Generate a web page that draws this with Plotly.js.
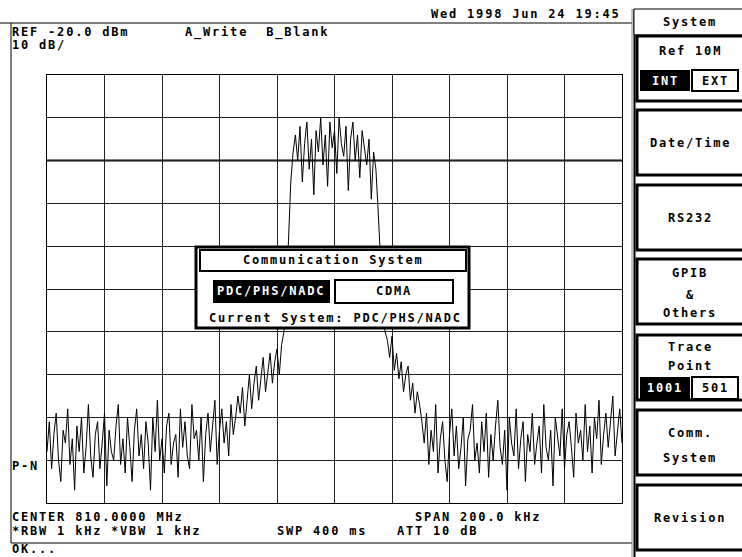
<!DOCTYPE html>
<html>
<head>
<meta charset="utf-8">
<script src="https://cdn.plot.ly/plotly-3.0.1.min.js"></script>
<style>
html,body{margin:0;padding:0;background:#fff;}
#chart{width:742px;height:557px;}
.annotation-text{letter-spacing:1.8px;}
</style>
</head>
<body>
<div id="chart"></div>
<script>
// ---- Data (dBm), frequency offset from center in kHz ----
const CENTER_MHZ = 810.0;
const SPAN_KHZ = 200;
const START_KHZ = -100;
const STEP_KHZ = 0.8;
const REF_DBM = -20;
const DB_PER_DIV = 10;

const noiseLeft = [-108,-101,-112,-104,-99,-110,-115,-103,-106,-98,
-111,-105,-117,-102,-108,-100,-113,-107,-97,-109,
-114,-104,-101,-112,-106,-99,-116,-103,-108,-110,
-102,-97,-111,-105,-113,-100,-107,-115,-103,-98,
-109,-104,-112,-101,-106,-117,-100,-108,-96,-110,
-105,-113,-102,-99,-111,-106,-104,-114,-98,-107,
-101,-109,-112,-97,-105,-103,-110,-100,-115,-104,
-99,-108,-102,-96,-111,-103,-98,-106,-101,-109,
-97,-104,-100,-95];
const shoulderLeft = [-99,-93,-102,-95,-90,-98,-92,-88,-96,-91,-86,-94,-89,-85,-92,-87,-84,-90,-83,-80];
const riseEdge = [-72,-58,-45,-38];
const channel = [-34,-40,-32,-45,-36,-31,-42,-35,-48,-33,
-38,-30,-41,-34,-46,-31,-37,-33,-43,-30,
-36,-39,-32,-47,-35,-31,-40,-34,-44,-33,
-37,-41,-35,-49,-38,-42];
const fallEdge = [-52,-63,-74,-80];
const shoulderRight = [-82,-86,-81,-89,-85,-91,-87,-94,-90,-88,-96,-92,-99,-94,-97,-101];
const noiseRight = [-106,-99,-111,-103,-108,-97,-113,-105,-101,-110,
-115,-104,-98,-109,-102,-112,-107,-100,-116,-105,
-103,-97,-110,-106,-113,-101,-108,-99,-114,-104,
-110,-102,-96,-107,-111,-103,-117,-100,-106,-109,
-98,-112,-105,-101,-115,-104,-108,-99,-111,-106,
-102,-113,-97,-107,-110,-103,-116,-100,-105,-109,
-98,-112,-104,-101,-107,-114,-99,-106,-103,-110,
-97,-108,-102,-113,-100,-105,-96,-111,-104,-99,
-107,-101,-95,-109,-103,-98,-106];

const traceA = [].concat(noiseLeft, shoulderLeft, riseEdge, channel, fallEdge, shoulderRight, noiseRight);

// ---- Layout helpers (pixel -> paper) ----
const L = 47, R = 622, T = 75, B = 503;
const px = x => (x - L) / (R - L);
const py = y => (B - y) / (B - T);
const FONT = 'DejaVu Sans Mono, Liberation Mono, monospace';

function txt(text, x, y, anchor, color) {
  return {text: text, x: px(x), y: py(y), xref: 'paper', yref: 'paper',
    xanchor: anchor || 'left', yanchor: 'middle', showarrow: false, borderpad: 0,
    font: {family: FONT, size: 12, color: color || '#000', weight: 'bold'}};
}
function rect(x0, y0, x1, y1, fill, w, col) {
  return {type: 'rect', xref: 'paper', yref: 'paper', x0: px(x0), x1: px(x1), y0: py(y1), y1: py(y0),
    fillcolor: fill, line: {width: w || 0, color: col || '#000'}, layer: 'above'};
}
function seg(x0, y0, x1, y1, w, col) {
  return {type: 'line', xref: 'paper', yref: 'paper', x0: px(x0), x1: px(x1), y0: py(y0), y1: py(y1),
    line: {width: w || 1, color: col || '#000'}, layer: 'above'};
}

const shapes = [
  seg(0, 23, 632, 23, 1),
  seg(11, 23, 11, 543, 1),
  seg(11, 543, 632, 543, 1),
  {type: 'line', xref: 'paper', yref: 'y', x0: 0, x1: 1, y0: -40, y1: -40, line: {width: 2, color: '#000'}, layer: 'below'},
  // right panel
  seg(632, 9, 632, 557, 1, '#888'),
  seg(634.5, 9, 634.5, 557, 2, '#000'),
  rect(634, 9, 746, 35, '#fff', 1),
];
const boxTops = [36, 110, 185, 259, 335, 410, 485];
boxTops.forEach(t => shapes.push(rect(637, t, 746, t + 65, '#fff', 3)));
shapes.push(rect(640, 70, 690, 91, '#000', 0));
shapes.push(rect(692, 70, 738, 91, '#fff', 2));
shapes.push(rect(640, 377, 690, 399, '#000', 0));
shapes.push(rect(692, 377, 738, 399, '#fff', 2));
// dialog
shapes.push(rect(196, 247, 469, 328, '#fff', 3));
shapes.push(rect(200, 250, 466, 271, '#fff', 2));
shapes.push(rect(213, 280, 330, 303, '#000', 0));
shapes.push(rect(335, 280, 453, 303, '#fff', 2));

const annotations = [
  txt('Wed 1998 Jun 24 19:45', 430, 14),
  txt('REF -20.0 dBm', 11, 32),
  txt('A_Write  B_Blank', 184, 32),
  txt('10 dB/', 11, 45),
  txt('P-N', 11, 466),
  txt('CENTER 810.0000 MHz', 11, 517),
  txt('SPAN 200.0 kHz', 414, 517),
  txt('*RBW 1 kHz', 11, 531),
  txt('*VBW 1 kHz', 110, 531),
  txt('SWP 400 ms', 276, 531),
  txt('ATT 10 dB', 396, 531),
  txt('OK...', 11, 549),
  // panel
  txt('System', 690, 22, 'center'),
  txt('Ref 10M', 690, 51, 'center'),
  txt('INT', 665, 81, 'center', '#fff'),
  txt('EXT', 715, 81, 'center'),
  txt('Date/Time', 690, 143, 'center'),
  txt('RS232', 690, 218, 'center'),
  txt('GPIB', 690, 273, 'center'),
  txt('&', 690, 295, 'center'),
  txt('Others', 690, 313, 'center'),
  txt('Trace', 690, 347, 'center'),
  txt('Point', 690, 366, 'center'),
  txt('1001', 665, 388, 'center', '#fff'),
  txt('501', 715, 388, 'center'),
  txt('Comm.', 690, 433, 'center'),
  txt('System', 690, 458, 'center'),
  txt('Revision', 690, 518, 'center'),
  // dialog
  txt('Communication System', 333, 260, 'center'),
  txt('PDC/PHS/NADC', 271, 291, 'center', '#fff'),
  txt('CDMA', 394, 291, 'center'),
  txt('Current System: PDC/PHS/NADC', 335, 318, 'center'),
];

const data = [{
  type: 'scatter', mode: 'lines',
  x0: START_KHZ, dx: STEP_KHZ, y: traceA,
  line: {color: '#000', width: 1},
  hoverinfo: 'skip'
}];

const layout = {
  width: 742, height: 557,
  margin: {l: L, r: 742 - R, t: T, b: 557 - B, pad: 0},
  paper_bgcolor: '#fff', plot_bgcolor: '#fff',
  showlegend: false,
  xaxis: {range: [START_KHZ, START_KHZ + SPAN_KHZ], dtick: SPAN_KHZ / 10, tick0: START_KHZ,
    showgrid: true, gridcolor: '#222', gridwidth: 1, zeroline: false,
    showticklabels: false, ticks: '', showline: true, linecolor: '#000', linewidth: 1, mirror: true},
  yaxis: {range: [REF_DBM - 10 * DB_PER_DIV, REF_DBM], dtick: DB_PER_DIV, tick0: REF_DBM,
    showgrid: true, gridcolor: '#222', gridwidth: 1, zeroline: false,
    showticklabels: false, ticks: '', showline: true, linecolor: '#000', linewidth: 1, mirror: true},
  shapes: shapes,
  annotations: annotations
};

Plotly.newPlot('chart', data, layout, {displayModeBar: false, staticPlot: true});
</script>
</body>
</html>
